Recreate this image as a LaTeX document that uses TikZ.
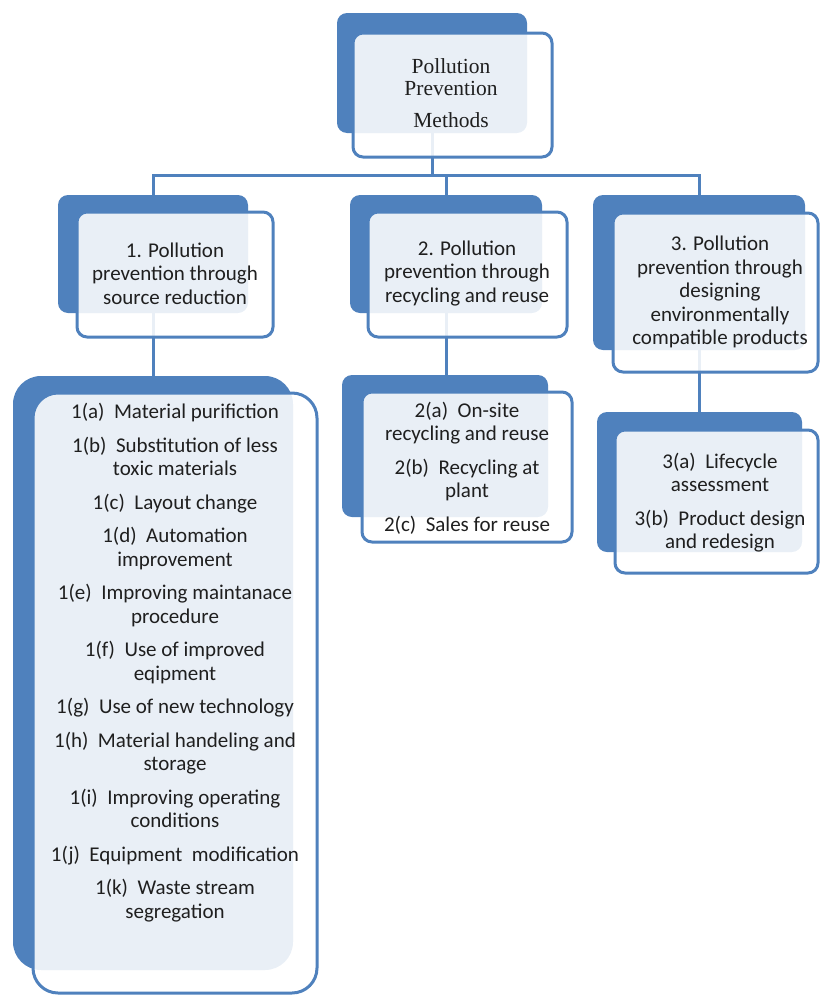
\documentclass[tikz,border=0pt]{standalone}
\usepackage{fontspec}
\setmainfont{Carlito}
\newfontfamily\tnr{Liberation Serif}
\definecolor{boxblue}{HTML}{4F81BD}
\tikzset{
  backbox/.style={fill=boxblue, rounded corners=10pt, inner sep=0pt, draw=none},
  frontbox/.style={draw=boxblue, line width=3pt, fill=white, fill opacity=0.88, rounded corners=10pt, inner sep=0pt},
  conn/.style={draw=boxblue, line width=3pt},
  txt/.style={align=center, font=\fontsize{21}{23.5}\selectfont, text=black!88, inner sep=0pt},
}
\begin{document}
\begin{tikzpicture}[x=1pt,y=-1pt]
\useasboundingbox (0,0) rectangle (820,996);
% back boxes
\node[backbox, minimum width=190pt, minimum height=120pt] (b0) at (432,73) {};
\node[backbox, minimum width=190pt, minimum height=118pt] (b1) at (153,254) {};
\node[backbox, minimum width=192pt, minimum height=118pt] (b2) at (446,254) {};
\node[backbox, minimum width=212pt, minimum height=155pt] (b3) at (699,272.5) {};
\node[backbox, rounded corners=28pt, minimum width=280pt, minimum height=594pt] (c1) at (153,673) {};
\node[backbox, minimum width=206pt, minimum height=142pt] (c2) at (445,446) {};
\node[backbox, minimum width=205pt, minimum height=140pt] (c3) at (699.5,482) {};
% connectors
\coordinate (bus) at (0,175);
\draw[conn] (b0.south) -- (b0.south |- bus);
\draw[conn] (b1.north) -- (b1.north |- bus) -- (b3.north |- bus) -- (b3.north);
\draw[conn] (b2.north) -- (b2.north |- bus);
\draw[conn] (b1.south) -- (c1.north);
\draw[conn] (b2.south) -- (b2.south |- c2.north);
\draw[conn] (b3.south) -- (b3.south |- c3.north);
% front boxes
\node[frontbox, minimum width=199pt, minimum height=124pt] (f0) at (452.5,95) {};
\node[frontbox, minimum width=196pt, minimum height=125pt] (f1) at (175,274.5) {};
\node[frontbox, minimum width=199pt, minimum height=125pt] (f2) at (467.5,274.5) {};
\node[frontbox, minimum width=205pt, minimum height=159pt] (f3) at (715.5,292.5) {};
\node[frontbox, rounded corners=25pt, minimum width=284pt, minimum height=600pt] (g1) at (175,693) {};
\node[frontbox, minimum width=210pt, minimum height=150pt] (g2) at (467,467) {};
\node[frontbox, minimum width=203pt, minimum height=143pt] (g3) at (716.5,501.5) {};
% texts
\node[txt, font=\tnr\fontsize{21.5}{22}\selectfont] (t0) at (451,93.5) {Pollution\\Prevention\\[10pt]Methods};
\node[txt] (t1) at (175,273.5) {1. Pollution\\prevention through\\source reduction};
\node[txt] (t2) at (467,273.5) {2. Pollution\\prevention through\\recycling and reuse};
\node[txt] (t3) at (720,292) {3. Pollution\\prevention through\\designing\\environmentally\\compatible products};
\node[txt] (u1) at (175,662.5) {1(a)~~Material purifiction\\[10pt]
1(b)~~Substitution of less\\toxic materials\\[10pt]
1(c)~~Layout change\\[10pt]
1(d)~~Automation\\improvement\\[10pt]
1(e)~~Improving maintanace\\procedure\\[10pt]
1(f)~~Use of improved\\eqipment\\[10pt]
1(g)~~Use of new technology\\[10pt]
1(h)~~Material handeling and\\storage\\[10pt]
1(i)~~Improving operating\\conditions\\[10pt]
1(j)~~Equipment~~modification\\[10pt]
1(k)~~Waste stream\\segregation};
\node[txt] (u2) at (467,468) {2(a)~~On-site\\recycling and reuse\\[10pt]
2(b)~~Recycling at\\plant\\[10pt]
2(c)~~Sales for reuse};
\node[txt] (u3) at (720,502.5) {3(a)~~Lifecycle\\assessment\\[10pt]
3(b)~~Product design\\and redesign};
\end{tikzpicture}
\end{document}
